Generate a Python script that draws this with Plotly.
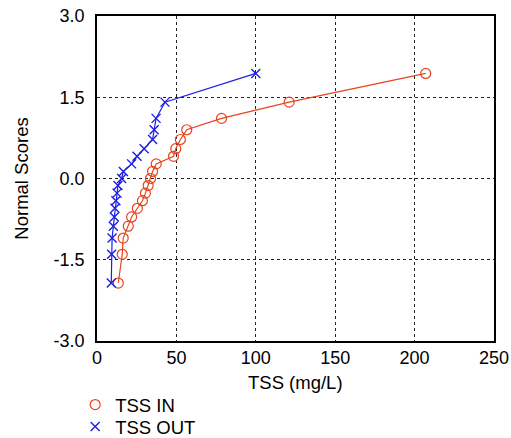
import plotly.graph_objects as go

# Normal scores (y) shared by both series
scores = [-1.93, -1.40, -1.10, -0.88, -0.71, -0.55, -0.41, -0.27, -0.13, 0.0,
          0.13, 0.27, 0.41, 0.55, 0.72, 0.90, 1.11, 1.41, 1.94]

tss_in = [13.4, 15.9, 16.5, 19.7, 21.8, 25.4, 28.6, 30.5, 32.2, 33.7,
          35.0, 37.3, 48.2, 49.6, 52.5, 56.5, 78.4, 121.0, 207.0]

tss_out = [9.0, 9.2, 9.5, 10.3, 10.9, 11.3, 11.9, 12.6, 13.2, 15.5,
           16.6, 21.8, 25.2, 29.7, 35.0, 36.0, 37.2, 42.8, 100.0]

x_ticks = [0, 50, 100, 150, 200, 250]
y_ticks = [-3.0, -1.5, 0.0, 1.5, 3.0]
y_tick_labels = ["-3.0", "-1.5", "0.0", "1.5", "3.0"]

RED = "#E8431F"
BLUE = "#1E1EE6"
FS = 18
FT = 18.5

fig = go.Figure()
# connecting lines (no legend)
fig.add_trace(go.Scatter(x=tss_in, y=scores, mode="lines",
                         line=dict(color=RED, width=1.2), showlegend=False, hoverinfo="skip"))
fig.add_trace(go.Scatter(x=tss_out, y=scores, mode="lines",
                         line=dict(color=BLUE, width=1.2), showlegend=False, hoverinfo="skip"))
# markers (legend)
fig.add_trace(go.Scatter(x=tss_in, y=scores, mode="markers", name="TSS IN",
                         marker=dict(symbol="circle-open", size=10, color=RED,
                                     line=dict(width=1.2, color=RED)),
                         legend="legend"))
fig.add_trace(go.Scatter(x=tss_out, y=scores, mode="markers", name="TSS OUT",
                         marker=dict(symbol="x-thin-open", size=9, color=BLUE,
                                     line=dict(width=1.4, color=BLUE)),
                         legend="legend2"))

axis_common = dict(
    showline=True, linecolor="black", linewidth=1.5, mirror=True,
    showgrid=True, gridcolor="#222222", griddash="dot", gridwidth=1,
    zeroline=False, ticks="", tickfont=dict(size=FS, color="black"),
    automargin=False, ticklabeloverflow="allow",
)

fig.update_xaxes(range=[0, 250], tickvals=x_ticks, **axis_common)
fig.update_yaxes(range=[-3.0, 3.0], tickvals=y_ticks, ticktext=y_tick_labels,
                 ticklabelstandoff=7,
                 title=dict(text="Normal Scores", font=dict(size=FT, color="black"), standoff=20),
                 **axis_common)

# x-axis title as annotation below the tick labels
fig.add_annotation(text="TSS (mg/L)", xref="paper", yref="paper", x=0.5, y=0,
                   xanchor="center", yanchor="top", yshift=-29, showarrow=False,
                   font=dict(size=FT, color="black"))

leg_common = dict(x=-0.055, xanchor="left", xref="paper", yref="container",
                  yanchor="middle", font=dict(size=FT), bgcolor="rgba(0,0,0,0)")

fig.update_layout(
    width=511, height=438,
    margin=dict(l=97, r=17, t=16, b=97),
    paper_bgcolor="white", plot_bgcolor="white",
    font=dict(family="Arial, Liberation Sans, sans-serif", size=FS, color="black"),
    legend=dict(y=0.0753, **leg_common),
    legend2=dict(y=0.0251, **leg_common),
)

fig.write_html("out.html",
               config={"displayModeBar": False},
               post_script="document.body.style.margin='0';document.body.style.overflow='hidden';")
